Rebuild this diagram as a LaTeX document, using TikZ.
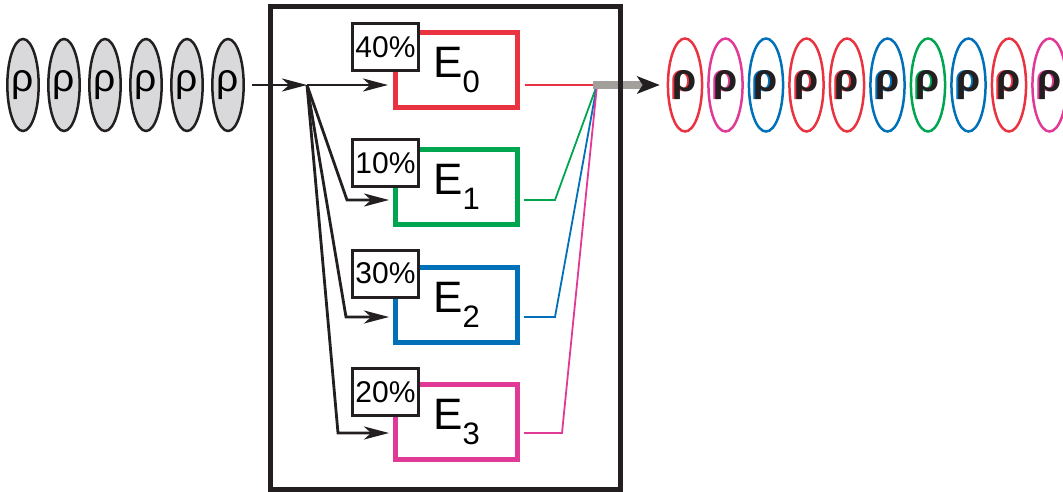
\documentclass[tikz,border=0pt]{standalone}
\usepackage{fontspec}
\setmainfont{Liberation Sans}
\usetikzlibrary{arrows.meta,shapes.geometric}
\definecolor{ered}{RGB}{233,51,64}
\definecolor{egreen}{RGB}{0,165,80}
\definecolor{eblue}{RGB}{0,112,184}
\definecolor{epink}{RGB}{224,58,150}
\definecolor{egray}{RGB}{217,217,219}
\definecolor{ebar}{RGB}{163,160,156}
\definecolor{eink}{RGB}{35,31,32}
\newcommand{\elabel}[1]{\fontsize{44}{44}\selectfont E\raisebox{-15pt}{\fontsize{31}{31}\selectfont #1}}
\newcommand{\crho}[1]{\rlap{\kern-2pt\raisebox{0.8pt}{\textcolor{#1}{ρ}}}ρ}
\tikzset{
	inpart/.style={ellipse,draw=eink,fill=egray,line width=2.5pt,minimum width=27.5pt,minimum height=92pt,inner sep=0pt,font=\fontsize{39}{39}\selectfont},
	outpart/.style={ellipse,draw=#1,line width=2.5pt,minimum width=27.5pt,minimum height=93pt,inner sep=0pt,text=eink,font=\fontsize{39}{39}\selectfont\bfseries},
	channel/.style={draw=#1,fill=white,line width=5pt,minimum width=122pt,minimum height=75pt,inner sep=0pt},
	weight/.style={draw=eink,fill=white,line width=3pt,minimum width=66pt,minimum height=47pt,inner sep=0pt,font=\fontsize{30}{30}\selectfont},
	feed/.style={draw=eink,line width=2.8pt,-{Stealth[length=25pt,width=13pt,inset=7pt]}},
	collect/.style={draw=#1,line width=1.8pt}
}
\begin{document}
\begin{tikzpicture}[x=1pt,y=-1pt]
	\useasboundingbox (0,0) rectangle (1063,492);
	% Define the desired points
	\coordinate (split) at (307,85);
	\coordinate (k1) at (347,200);
	\coordinate (k2) at (346,317);
	\coordinate (k3) at (338,433);
	\coordinate (o1) at (555,200);
	\coordinate (o2) at (555,317);
	\coordinate (o3) at (562,433);
	\coordinate (merge) at (597,85);
	% Incoming particles
	\node[inpart] (l1) at (23,85) {ρ};
	\node[inpart] (l2) at (64,85) {ρ};
	\node[inpart] (l3) at (105,85) {ρ};
	\node[inpart] (l4) at (146,85) {ρ};
	\node[inpart] (l5) at (187,85) {ρ};
	\node[inpart] (l6) at (228,85) {ρ};
	% Channels and their weights
	\node[channel=ered] (e0) at (456.5,70) {\elabel{0}};
	\node[channel=egreen] (e1) at (456.5,187) {\elabel{1}};
	\node[channel=eblue] (e2) at (456.5,304.5) {\elabel{2}};
	\node[channel=epink] (e3) at (456.5,422) {\elabel{3}};
	\node[weight] (w0) at (385.5,47) {40\%};
	\node[weight] (w1) at (385.5,163) {10\%};
	\node[weight] (w2) at (385.5,273.5) {30\%};
	\node[weight] (w3) at (385.5,392) {20\%};
	% Draw the feeds
	\draw[feed,shorten <=7pt] (l6.east) -- (split);
	\draw[feed,shorten >=5pt] (split) -- (e0.west |- split);
	\draw[feed,shorten >=4pt] (split) -- (k1) -- (k1 -| e1.west);
	\draw[feed,shorten >=4pt] (split) -- (k2) -- (k2 -| e2.west);
	\draw[feed,shorten >=4pt] (split) -- (k3) -- (k3 -| e3.west);
	% Collect the outputs
	\draw[collect=ered,shorten <=5pt] (e0.east |- merge) -- (merge);
	\draw[collect=egreen,shorten <=4pt] (e1.east |- o1) -- (o1) -- (merge);
	\draw[collect=eblue,shorten <=4pt] (e2.east |- o2) -- (o2) -- (merge);
	\draw[collect=epink,shorten <=4pt] (e3.east |- o3) -- (o3) -- (merge);
	% Outgoing particles
	\node[outpart=ered] (r1) at (685,85) {\crho{ered}};
	\node[outpart=epink] (r2) at (725.5,85) {\crho{epink}};
	\node[outpart=eblue] (r3) at (766,85) {\crho{eblue}};
	\node[outpart=ered] (r4) at (806.5,85) {\crho{ered}};
	\node[outpart=ered] (r5) at (847,85) {\crho{ered}};
	\node[outpart=eblue] (r6) at (887.5,85) {\crho{eblue}};
	\node[outpart=egreen] (r7) at (928,85) {\crho{egreen}};
	\node[outpart=eblue] (r8) at (968.5,85) {\crho{eblue}};
	\node[outpart=ered] (r9) at (1009,85) {\crho{ered}};
	\node[outpart=epink] (r10) at (1049.5,85) {\crho{epink}};
	% Output stream
	\draw[ebar,line width=8pt,shorten <=-4pt,shorten >=7pt,-{Stealth[color=eink,line width=0pt,length=23pt,width=18pt,inset=6pt]}] (merge) -- (r1.west);
	% Frame
	\draw[eink,line width=5pt] (270,7) rectangle (620,489);
\end{tikzpicture}
\end{document}
